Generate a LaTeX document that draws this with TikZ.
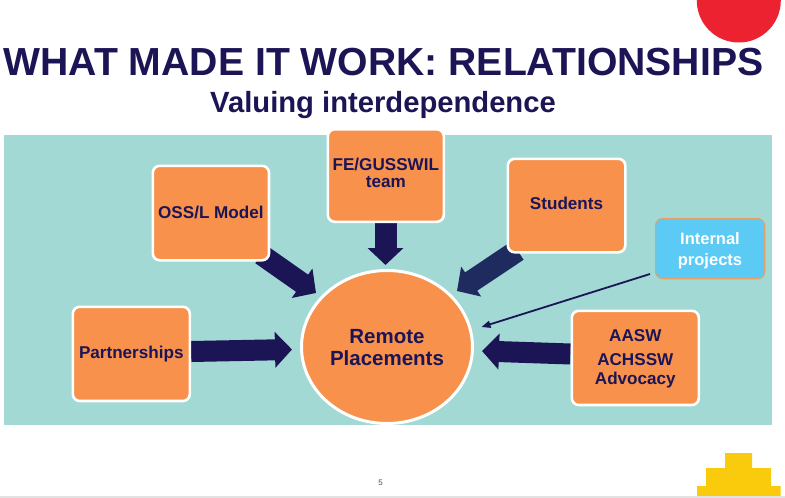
\documentclass[tikz,border=0pt]{standalone}
\usepackage{fontspec}
\setmainfont{Liberation Sans}
\usetikzlibrary{arrows.meta,calc,shadows,shapes.geometric}
\definecolor{navy}{HTML}{1B1555}
\definecolor{navyb}{HTML}{1F2A5E}
\definecolor{tealbg}{HTML}{A2D9D5}
\definecolor{orangebox}{HTML}{F8914B}
\definecolor{redsun}{HTML}{EC2230}
\definecolor{yellowstep}{HTML}{FACA0C}
\definecolor{skyblue}{HTML}{5BCBF5}
\definecolor{pagegray}{HTML}{E2E2E2}
\pgfdeclarelayer{backdrop}
\pgfdeclarelayer{under}
\pgfsetlayers{backdrop,under,main}
\tikzset{
  px/.style={x=1pt,y=-1pt},
  boxstyle/.style={draw=white,line width=2.6pt,fill=orangebox,rounded corners=7pt,inner sep=0pt},
  boxlabel/.style={text=navy,font=\bfseries\fontsize{17.1}{17}\selectfont,align=center,inner sep=0pt},
  blockarrow/.style={draw=navy,line width=21pt,-{Triangle[length=17pt,width=35pt]}},
}
\newcommand{\boxat}[5]{\node[boxstyle,minimum width=#4 pt-#2 pt,minimum height=#5 pt-#3 pt,anchor=north west] (#1) at (#2,#3) {};}
\begin{document}
\begin{tikzpicture}[px]
\useasboundingbox (0,0) rectangle (785,498);
\begin{pgfonlayer}{backdrop}
\fill[white] (0,0) rectangle (785,498);
\fill[tealbg] (3.5,134.5) rectangle (772,424.5);
\begin{scope}
\clip (0,0) rectangle (785,498);
\fill[redsun] (738.8,0.5) circle[radius=42];
\end{scope}
\fill[yellowstep] (697,497) |- (706,486) |- (725,468) |- (752,453) |- (771,468) |- (780.7,486) |- cycle;
\fill[pagegray] (0,496) rectangle (785,498);
\end{pgfonlayer}
% titles
\node[text=navy,font=\bfseries\fontsize{39.15}{44}\selectfont,inner sep=0pt,anchor=base] (title) at (383.5,75) {WHAT MADE IT WORK: RELATIONSHIPS};
\node[text=navy,font=\bfseries\fontsize{29.2}{32}\selectfont,inner sep=0pt,anchor=base] (subtitle) at (383,112.5) {Valuing interdependence};
% boxes
\boxat{oss}{151.5}{164.5}{267.7}{259}
\boxat{fe}{326.5}{128}{442.5}{220.5}
\boxat{students}{506.5}{157.5}{624}{251}
\boxat{partnerships}{71.5}{305.5}{188.5}{399.7}
\boxat{aasw}{570.5}{309.5}{697.5}{403.7}
\node[draw=white,line width=3pt,fill=orangebox,ellipse,minimum width=171pt,minimum height=153pt,inner sep=0pt] (remote) at (387,347) {};
\node[draw=orangebox!80!tealbg,line width=1pt,fill=skyblue,rounded corners=7pt,minimum width=109pt,minimum height=60pt,inner sep=0pt,drop shadow={shadow xshift=0.8pt,shadow yshift=-0.8pt,opacity=.25}] (internal) at (710,248.5) {};
% arrow ends
\coordinate (ossend) at (316,293);
\coordinate (feend) at (385.5,265);
\coordinate (studend) at (457,291);
\coordinate (partend) at (292,349.5);
\coordinate (aaswend) at (482,351);
\coordinate (intend) at (481.5,327);
\coordinate (intstart) at ($(internal.south west)+(-5,-5)$);
% connectors
\begin{pgfonlayer}{under}
\draw[blockarrow] ($(oss.south east)+(-9,-7)$) -- (ossend);
\draw[blockarrow,line width=22pt] (fe.south -| feend) -- (feend);
\draw[blockarrow,draw=navyb,line width=22pt] ($(students.south west)+(11,-3)$) -- (studend);
\draw[blockarrow] (partnerships.east |- 0,351.5) -- (partend);
\draw[blockarrow] (aasw.west |- 0,354) -- (aaswend);
\end{pgfonlayer}
\draw[draw=navy,line width=1.8pt,-{Triangle[length=9pt,width=7pt]}] (intstart) -- (intend);
% labels
\node[boxlabel] (osslabel) at ($(oss.center)+(0,-.5)$) {OSS/L Model};
\node[boxlabel] (felabel) at ($(fe.center)+(0,-2.2)$) {FE/GUSSWIL\\team};
\node[boxlabel] (studlabel) at ($(students.center)+(0,-2.5)$) {Students};
\node[boxlabel] (partlabel) at ($(partnerships.center)+(0,.5)$) {Partnerships};
\node[boxlabel] (aaswlabel) at ($(aasw.center)+(0,.5)$) {AASW\\[7pt]ACHSSW\\[2pt]Advocacy};
\node[text=navy,font=\bfseries\fontsize{20.5}{22}\selectfont,align=center,inner sep=0pt] (remotelabel) at ($(remote.center)+(0,.5)$) {Remote\\Placements};
\node[text=white,font=\bfseries\fontsize{16.5}{21}\selectfont,align=center,inner sep=0pt] (intlabel) at ($(internal.center)+(0,2.5)$) {Internal\\projects};
\node[text=black!70,font=\fontsize{8}{9}\selectfont,inner sep=0pt] (pagenum) at (380.5,483) {5};
\end{tikzpicture}
\end{document}
